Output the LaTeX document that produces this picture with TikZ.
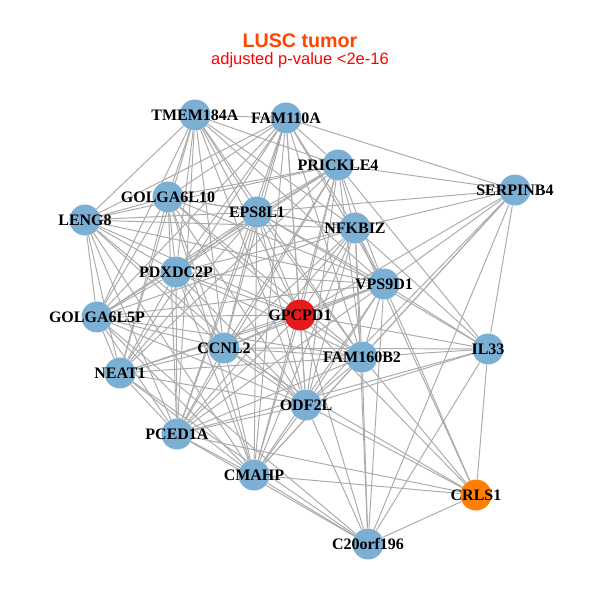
\documentclass[tikz,border=0pt]{standalone}
\usepackage{fontspec}
\setmainfont{Liberation Serif}
\newfontfamily\headfont{Liberation Sans}
\usetikzlibrary{backgrounds}
\definecolor{genblue}{RGB}{123,175,212}
\definecolor{genred}{RGB}{228,26,28}
\definecolor{genorange}{RGB}{255,127,0}
\definecolor{edgegray}{RGB}{170,170,170}
\definecolor{titleorange}{RGB}{255,69,0}
\tikzset{
  gene/.style 2 args={circle, fill=#1, draw=none, minimum size=0.62cm, inner sep=0pt,
    label={[font=\fontsize{9.1}{10}\selectfont\bfseries]center:#2}},
  link/.style={draw=edgegray, line width=0.55pt},
}
\begin{document}
\begin{tikzpicture}[x=0.02cm, y=-0.02cm]
  \useasboundingbox (0,0) rectangle (600,600);
  % title
  \node[font=\headfont\fontsize{11.2}{13}\selectfont\bfseries, text=titleorange] (title) at (300,41) {LUSC tumor};
  \node[font=\headfont\fontsize{9.4}{11}\selectfont, text=red] (subtitle) at (300,60) {adjusted p-value <2e-16};
  % genes
  \node[gene={genblue}{TMEM184A}] (tmem) at (195,115) {};
  \node[gene={genblue}{FAM110A}] (fam110) at (286,118) {};
  \node[gene={genblue}{PRICKLE4}] (prickle) at (338,165) {};
  \node[gene={genblue}{SERPINB4}] (serpin) at (515,190) {};
  \node[gene={genblue}{GOLGA6L10}] (golga10) at (168,197) {};
  \node[gene={genblue}{EPS8L1}] (eps) at (257,212) {};
  \node[gene={genblue}{LENG8}] (leng) at (85,220) {};
  \node[gene={genblue}{NFKBIZ}] (nfkbiz) at (355,228) {};
  \node[gene={genblue}{PDXDC2P}] (pdxdc) at (176,272) {};
  \node[gene={genblue}{VPS9D1}] (vps) at (384,284) {};
  \node[gene={genblue}{GOLGA6L5P}] (golga5) at (97,317) {};
  \node[gene={genred}{GPCPD1}] (gpcpd) at (300,315) {};
  \node[gene={genblue}{CCNL2}] (ccnl) at (224,348) {};
  \node[gene={genblue}{FAM160B2}] (fam160) at (362,357) {};
  \node[gene={genblue}{IL33}] (il33) at (488,349) {};
  \node[gene={genblue}{NEAT1}] (neat) at (120,373) {};
  \node[gene={genblue}{ODF2L}] (odf) at (306,405) {};
  \node[gene={genblue}{PCED1A}] (pced) at (177,434) {};
  \node[gene={genblue}{CMAHP}] (cmahp) at (254,475) {};
  \node[gene={genorange}{CRLS1}] (crls) at (476,495) {};
  \node[gene={genblue}{C20orf196}] (c20) at (368,544) {};
  % co-expression links
  \begin{scope}[on background layer]
    \foreach \a/\b in {tmem/fam110, tmem/golga10, tmem/eps, tmem/leng, tmem/pdxdc, tmem/nfkbiz,
      tmem/prickle, tmem/vps, tmem/golga5, tmem/gpcpd, tmem/ccnl, tmem/fam160, tmem/neat,
      tmem/odf, tmem/pced,
      fam110/prickle, fam110/eps, fam110/golga10, fam110/leng, fam110/pdxdc, fam110/nfkbiz,
      fam110/vps, fam110/gpcpd, fam110/ccnl, fam110/fam160, fam110/golga5, fam110/neat,
      fam110/odf, fam110/serpin, fam110/pced, fam110/cmahp,
      prickle/eps, prickle/golga10, prickle/leng, prickle/pdxdc, prickle/nfkbiz, prickle/vps,
      prickle/gpcpd, prickle/ccnl, prickle/fam160, prickle/golga5, prickle/odf, prickle/serpin,
      prickle/neat, prickle/pced, prickle/cmahp, prickle/il33,
      golga10/eps, golga10/leng, golga10/pdxdc, golga10/nfkbiz, golga10/vps, golga10/golga5,
      golga10/gpcpd, golga10/ccnl, golga10/fam160, golga10/neat, golga10/odf, golga10/pced,
      golga10/cmahp,
      eps/leng, eps/nfkbiz, eps/pdxdc, eps/vps, eps/golga5, eps/gpcpd, eps/ccnl, eps/fam160,
      eps/neat, eps/odf, eps/pced, eps/cmahp, eps/serpin, eps/il33,
      leng/nfkbiz, leng/pdxdc, leng/golga5, leng/gpcpd, leng/ccnl, leng/neat, leng/odf,
      leng/pced, leng/cmahp, leng/vps,
      nfkbiz/pdxdc, nfkbiz/vps, nfkbiz/gpcpd, nfkbiz/ccnl, nfkbiz/fam160, nfkbiz/golga5,
      nfkbiz/odf, nfkbiz/pced, nfkbiz/cmahp, nfkbiz/il33, nfkbiz/serpin, nfkbiz/c20,
      nfkbiz/crls,
      pdxdc/vps, pdxdc/golga5, pdxdc/gpcpd, pdxdc/ccnl, pdxdc/fam160, pdxdc/neat, pdxdc/odf,
      pdxdc/pced, pdxdc/cmahp,
      vps/gpcpd, vps/ccnl, vps/fam160, vps/golga5, vps/neat, vps/odf, vps/pced, vps/cmahp,
      vps/il33, vps/serpin, vps/c20, vps/crls,
      golga5/gpcpd, golga5/ccnl, golga5/neat, golga5/odf, golga5/pced, golga5/cmahp,
      golga5/fam160, golga5/c20,
      gpcpd/ccnl, gpcpd/fam160, gpcpd/neat, gpcpd/odf, gpcpd/pced, gpcpd/cmahp, gpcpd/il33,
      gpcpd/serpin, gpcpd/c20, gpcpd/crls,
      ccnl/fam160, ccnl/neat, ccnl/odf, ccnl/pced, ccnl/cmahp, ccnl/il33, ccnl/crls,
      fam160/neat, fam160/odf, fam160/pced, fam160/cmahp, fam160/c20, fam160/il33,
      fam160/serpin, fam160/crls,
      neat/odf, neat/pced, neat/cmahp, neat/c20,
      odf/pced, odf/cmahp, odf/c20, odf/crls, odf/il33, odf/serpin,
      pced/cmahp, pced/c20, pced/crls, pced/il33,
      cmahp/c20, cmahp/crls, cmahp/serpin,
      c20/crls, c20/il33, c20/serpin, serpin/il33, il33/crls}
      \draw[link] (\a) -- (\b);
  \end{scope}
\end{tikzpicture}
\end{document}
